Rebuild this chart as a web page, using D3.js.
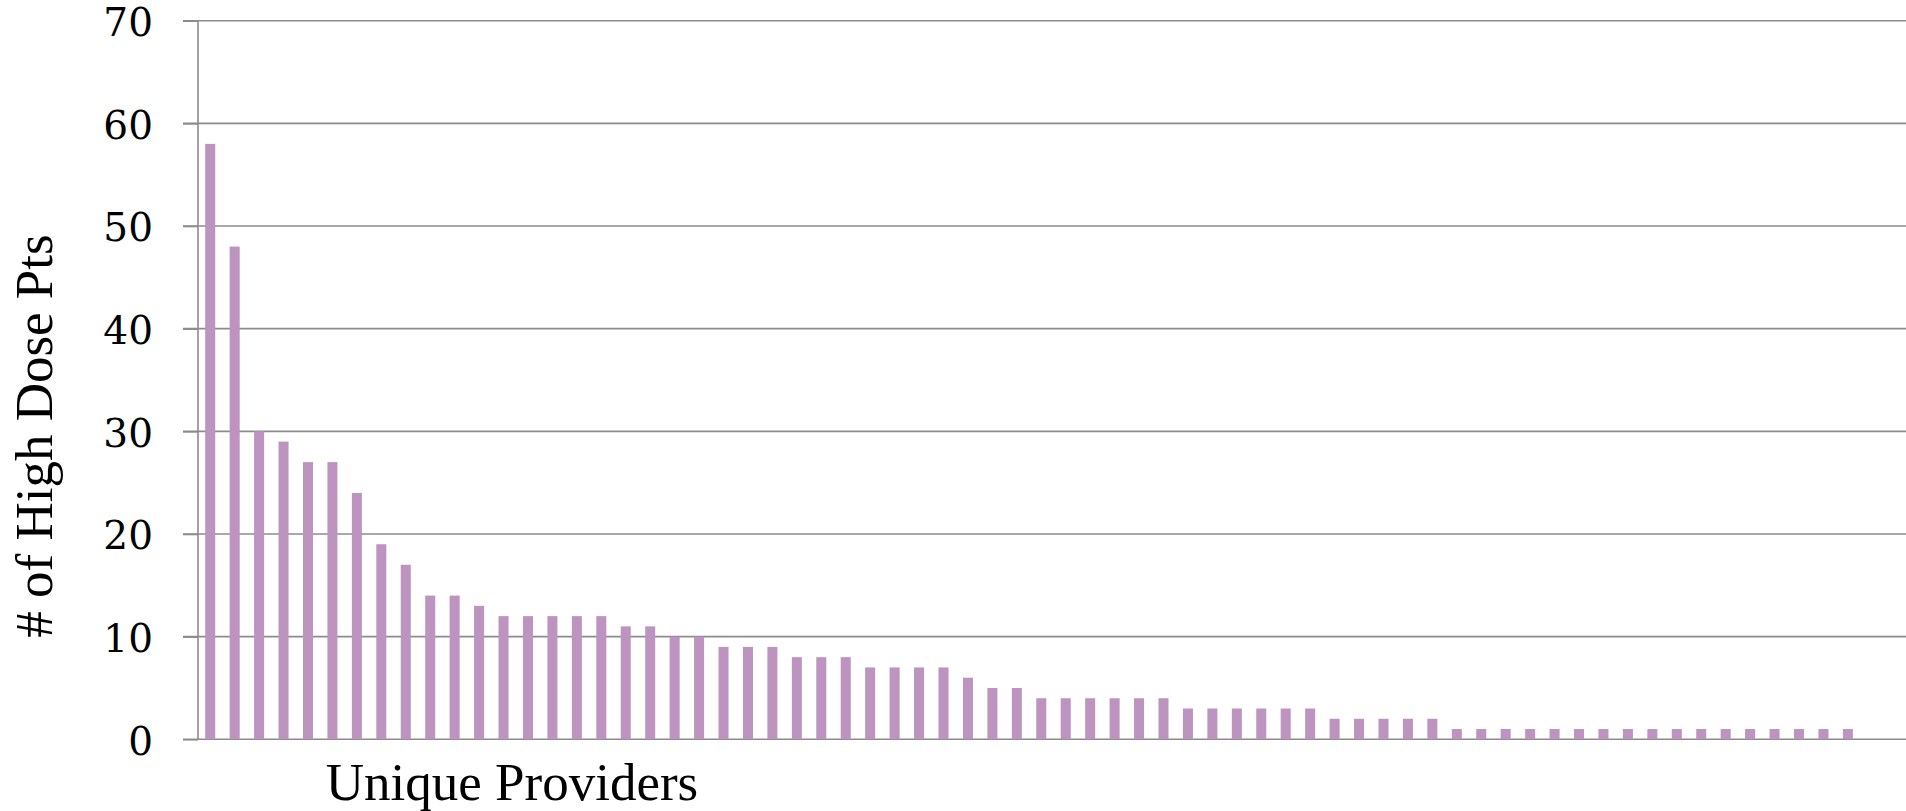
<!DOCTYPE html>
<html>
<head>
<meta charset="utf-8">
<script src="https://cdn.jsdelivr.net/npm/d3@7"></script>
<style>
  html, body { margin: 0; padding: 0; background: #fff; }
  svg { display: block; }
</style>
</head>
<body>
<svg id="chart" width="1906" height="811"></svg>
<script>
// Data
const providers = d3.range(1, 71).map(i => "P" + i);
const highDosePts = [
  58, 48, 30, 29, 27, 27, 24, 19, 17, 14,
  14, 13, 12, 12, 12, 12, 12, 11, 11, 10,
  10, 9, 9, 9, 8, 8, 8, 7, 7, 7,
  7, 6, 5, 5, 4, 4, 4, 4, 4, 4,
  3, 3, 3, 3, 3, 3, 2, 2, 2, 2,
  2, 1, 1, 1, 1, 1, 1, 1, 1, 1,
  1, 1, 1, 1, 1, 1, 1, 1, 0, 0
];
const yTicks = [0, 10, 20, 30, 40, 50, 60, 70];
const xTitle = "Unique Providers";
const yTitle = "# of High Dose Pts";

(function () {
  const svg = d3.select("#chart");
  const pLeft = 198, pRight = 1909, pTop = 20.7, pBottom = 739.3;

  const x = d3.scaleBand().domain(providers).range([pLeft, pRight])
    .paddingInner(0.59).paddingOuter(0.295);
  const y = d3.scaleLinear().domain([0, 70]).range([pBottom, pTop]);

  const gridColor = "#8c8c8c";

  // gridlines
  svg.append("g").selectAll("line").data(yTicks).join("line")
    .attr("x1", pLeft - 15).attr("x2", 1906)
    .attr("y1", d => y(d)).attr("y2", d => y(d))
    .attr("stroke", gridColor).attr("stroke-width", 1.6);

  // bars
  svg.append("g").selectAll("rect").data(highDosePts).join("rect")
    .attr("x", (d, i) => x(providers[i]))
    .attr("width", x.bandwidth())
    .attr("y", d => y(d))
    .attr("height", d => y(0) - y(d))
    .attr("fill", "#bd93c0");

  // y axis
  const yAxis = svg.append("g").attr("transform", `translate(${pLeft},0)`)
    .call(d3.axisLeft(y).tickValues(yTicks).tickSize(15).tickPadding(30).tickFormat(d3.format("d")));
  yAxis.select(".domain").attr("stroke", gridColor).attr("stroke-width", 1.6).attr("d", `M0,${pTop}V${pBottom}`);
  yAxis.selectAll(".tick line").attr("stroke", gridColor).attr("stroke-width", 1.6);
  yAxis.selectAll(".tick text")
    .attr("font-family", "'DejaVu Serif', serif")
    .attr("font-size", 39).attr("fill", "#000").attr("dy", "0.38em");

  // axis titles
  svg.append("text")
    .attr("x", 512).attr("y", 800)
    .attr("text-anchor", "middle")
    .attr("font-family", "'Liberation Serif', 'Times New Roman', serif")
    .attr("font-size", 53).attr("fill", "#000")
    .text(xTitle);

  svg.append("text")
    .attr("transform", "translate(52,436) rotate(-90)")
    .attr("text-anchor", "middle")
    .attr("font-family", "'Liberation Serif', 'Times New Roman', serif")
    .attr("font-size", 53).attr("fill", "#000")
    .text(yTitle);
})();
</script>
</body>
</html>
